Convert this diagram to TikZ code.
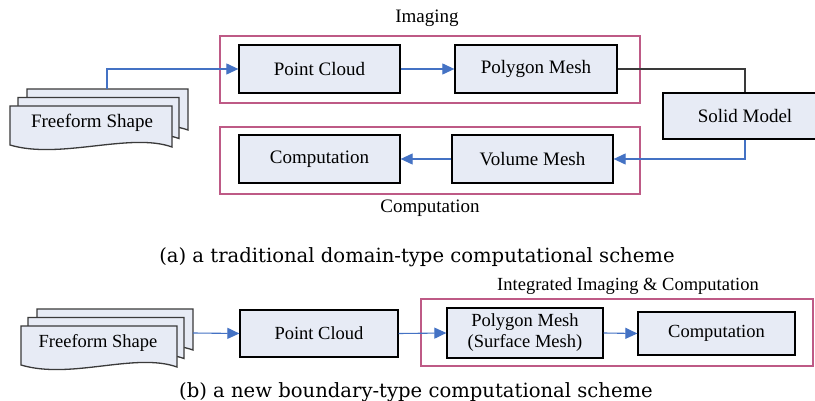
\documentclass[tikz,border=0pt]{standalone}
\usepackage{fontspec}
\setmainfont{Liberation Serif}
\newfontfamily\capfont{DejaVu Serif}
\usetikzlibrary{arrows.meta}
\definecolor{boxfill}{HTML}{E7EBF5}
\definecolor{framepink}{HTML}{BE5A86}
\definecolor{arrowblue}{HTML}{4472C4}
\definecolor{darkline}{HTML}{3A3A3A}
\newcommand\docsheet[3]{%
  \draw[docstyle] (#1,#2) -- ++(#3,0) -- ++(0,41)
    .. controls +(-42,-15) and +(50,15) .. (#1,#2+39) -- cycle;}
\begin{document}
\begin{tikzpicture}[x=1pt,y=-1pt,
  box/.style={draw=black, line width=1.3pt, fill=boxfill, inner sep=0pt,
    font=\fontsize{19}{21}\selectfont, align=center},
  frame/.style={draw=framepink, line width=1.4pt},
  docstyle/.style={draw=darkline, line width=1.3pt, fill=boxfill},
  flow/.style={draw=arrowblue, line width=1.1pt, -{Triangle[length=12pt,width=11pt]}},
  plain/.style={draw=darkline, line width=1.1pt},
  lbl/.style={font=\fontsize{19}{21}\selectfont, inner sep=0pt},
  caption/.style={font=\capfont\fontsize{19.6}{22}\selectfont, inner sep=0pt}]
\clip (0,0) rectangle (815,401);
\fill[white] (0,0) rectangle (815,401);

% ---------- (a) ----------
\draw[frame] (220,36) rectangle (640,103);
\draw[frame] (220,127) rectangle (640,194);
\node[lbl] (limg) at (427,18) {Imaging};
\node[lbl] (lcomp) at (430,208) {Computation};

\docsheet{27}{89}{161}
\docsheet{18}{97.5}{161}
\docsheet{10}{106}{162}
\node[lbl] (ffa) at (92,123) {Freeform Shape};
\coordinate (ffatop) at (107,89);

\node[box, minimum width=161pt, minimum height=48pt] (pca) at (319.5,69) {Point Cloud};
\node[box, minimum width=162pt, minimum height=48pt] (pma) at (536,69) {Polygon Mesh};
\node[box, minimum width=164pt, minimum height=46pt] (sm) at (745,116) {Solid Model};
\node[box, minimum width=161pt, minimum height=48pt] (vm) at (532.5,159) {Volume Mesh};
\node[box, minimum width=161pt, minimum height=48pt] (ca) at (319.5,159) {Computation};

\draw[flow] (ffatop) |- (pca.west);
\draw[flow] (pca.east) -- (pma.west);
\draw[plain] (pma.east) -| (sm.north);
\draw[flow] (sm.south) |- (vm.east);
\draw[flow] (vm.west) -- (ca.east);

\node[caption] (capa) at (417,257) {(a) a traditional domain-type computational scheme};

% ---------- (b) ----------
\draw[frame] (421,299) rectangle (813,366);
\node[lbl, font=\fontsize{18.5}{21}\selectfont] (lint) at (628,286) {Integrated Imaging \& Computation};

\docsheet{37}{309}{156}
\docsheet{28}{317.5}{156}
\docsheet{21}{326}{156}
\node[lbl, font=\fontsize{18.5}{21}\selectfont] (ffb) at (98,343) {Freeform Shape};
\coordinate (ffbright) at (193,333);

\node[box, font=\fontsize{18.5}{21}\selectfont, minimum width=158pt, minimum height=47pt] (pcb) at (319,333.5) {Point Cloud};
\node[box, font=\fontsize{18.5}{21}\selectfont, minimum width=156pt, minimum height=50pt] (pmb) at (525,333) {Polygon Mesh\\(Surface Mesh)};
\node[box, font=\fontsize{18.5}{21}\selectfont, minimum width=157pt, minimum height=43pt] (cb) at (716.5,333.5) {Computation};

\draw[flow] (ffbright) -- (pcb.west);
\draw[flow] (pcb.east) -- (pmb.west);
\draw[flow] (pmb.east) -- (cb.west);

\node[caption] (capb) at (416,392) {(b) a new boundary-type computational scheme};
\end{tikzpicture}
\end{document}
